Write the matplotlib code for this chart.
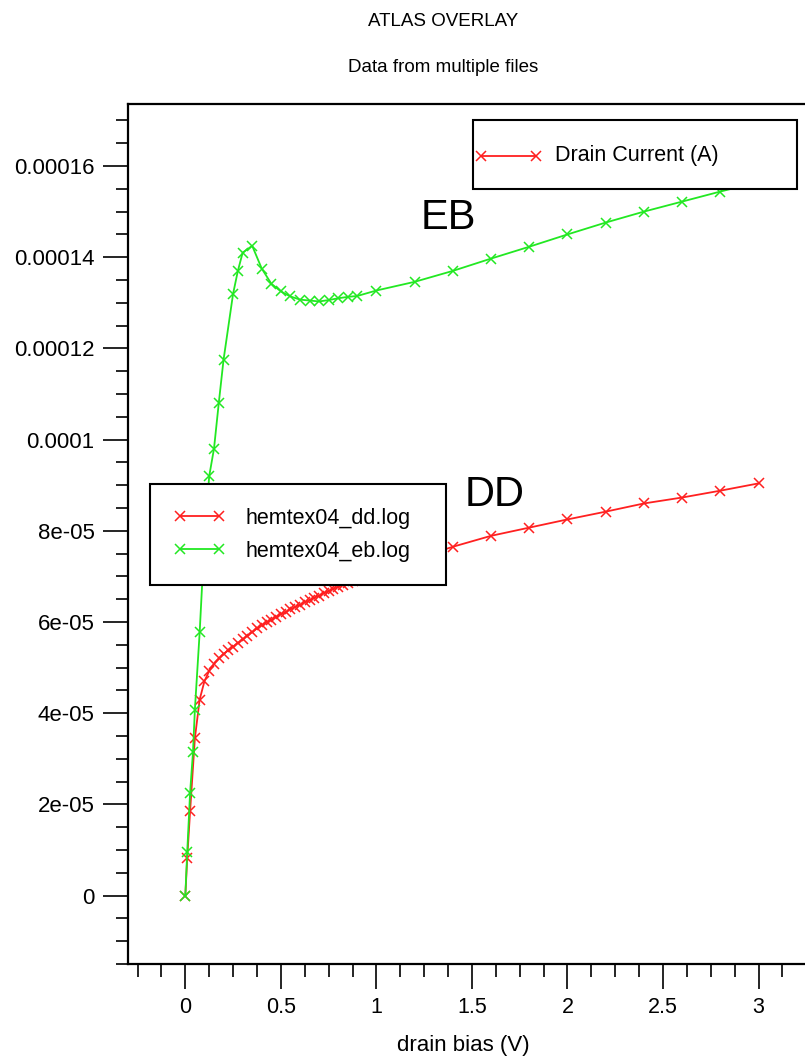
import matplotlib
matplotlib.use("Agg")
import matplotlib.pyplot as plt
from matplotlib.lines import Line2D
from matplotlib.patches import Rectangle
from matplotlib.ticker import MultipleLocator, FormatStrFormatter

# drain bias sweep (V) and drain current (uA) read from the two log files
dd_bias = [0, 0.01, 0.025, 0.05, 0.075, 0.1, 0.125, 0.15, 0.175, 0.2,
           0.225, 0.25, 0.275, 0.3, 0.325, 0.35, 0.375, 0.4, 0.425, 0.45,
           0.475, 0.5, 0.525, 0.55, 0.575, 0.6, 0.625, 0.65, 0.675, 0.7,
           0.725, 0.75, 0.775, 0.8, 0.825, 0.85, 0.875, 0.9, 0.925, 0.95,
           0.975, 1.0, 1.2, 1.4, 1.6, 1.8, 2.0, 2.2, 2.4, 2.6, 2.8, 3.0]
dd_current_uA = [0, 8.3, 18.5, 34.5, 43.0, 47.0, 49.3, 50.8, 52.0, 53.0,
                 53.8, 54.6, 55.4, 56.2, 57.0, 57.8, 58.6, 59.3, 59.9, 60.5,
                 61.1, 61.7, 62.2, 62.8, 63.3, 63.8, 64.3, 64.8, 65.3, 65.8,
                 66.3, 66.8, 67.3, 67.7, 68.2, 68.6, 69.0, 69.4, 69.8, 70.2,
                 70.6, 71.0, 73.8, 76.5, 78.9, 80.7, 82.5, 84.2, 86.0, 87.3,
                 88.8, 90.4]

eb_bias = [0, 0.01, 0.025, 0.04, 0.05, 0.075, 0.1, 0.125, 0.15, 0.175,
           0.2, 0.25, 0.275, 0.3, 0.35, 0.4, 0.45, 0.5, 0.55, 0.6, 0.65,
           0.7, 0.75, 0.8, 0.85, 0.9, 1.0, 1.2, 1.4, 1.6, 1.8, 2.0, 2.2,
           2.4, 2.6, 2.8, 3.0]
eb_current_uA = [0, 9.6, 22.6, 31.4, 40.8, 57.7, 78.0, 92.0, 98.0, 108.0,
                 117.5, 132.0, 137.0, 141.0, 142.5, 137.5, 134.2, 132.5,
                 131.4, 130.7, 130.5, 130.3, 130.6, 131.0, 131.3, 131.5,
                 132.7, 134.6, 137.0, 139.7, 142.3, 145.0, 147.6, 150.0,
                 152.2, 154.4, 156.5]

dd_current = [i * 1e-6 for i in dd_current_uA]
eb_current = [i * 1e-6 for i in eb_current_uA]

RED = '#ff2020'
GREEN = '#22e822'
FS = 15.5

plt.rcParams['font.family'] = ['Liberation Sans', 'DejaVu Sans']

W, H = 805, 1064
fig = plt.figure(figsize=(W / 100, H / 100), dpi=100)
# axes run off the right edge of the page, like the ATLAS plot window
ax = fig.add_axes([128 / W, 100 / H, 707 / W, 860 / H])

l_dd, = ax.plot(dd_bias, dd_current, color=RED, lw=1.3, marker='x',
                ms=7, mew=1.1)
l_eb, = ax.plot(eb_bias, eb_current, color=GREEN, lw=1.3, marker='x',
                ms=7, mew=1.1)

ax.set_xlim(-0.3, 3.4)
ax.set_ylim(-1.5e-5, 17.36e-5)

ax.xaxis.set_major_locator(MultipleLocator(0.5))
ax.xaxis.set_minor_locator(MultipleLocator(0.125))
ax.yaxis.set_major_locator(MultipleLocator(2e-5))
ax.yaxis.set_minor_locator(MultipleLocator(5e-6))
ax.xaxis.set_major_formatter(FormatStrFormatter('%g'))
ax.yaxis.set_major_formatter(FormatStrFormatter('%g'))

ax.tick_params(which='major', direction='out', length=18, width=1.2,
               labelsize=FS, pad=6, colors='black')
ax.tick_params(axis='y', which='major', labelsize=16)
ax.tick_params(which='minor', direction='out', length=9, width=1.2)
for side in ('left', 'bottom', 'top'):
    ax.spines[side].set_linewidth(1.6)
ax.spines['right'].set_visible(False)

ax.set_xlabel('drain bias (V)', fontsize=16, va='center')
ax.xaxis.set_label_coords((463 - 128) / 707, -(1046 - 964) / 860)

ax.text(1.377, 14.87e-5, 'EB', fontsize=30, ha='center', va='center')
ax.text(1.62, 8.79e-5, 'DD', fontsize=30, ha='center', va='center')

fig.text(443 / W, 1 - 22 / H, 'ATLAS OVERLAY', fontsize=13.5,
         ha='center', va='center')
fig.text(443 / W, 1 - 68 / H, 'Data from multiple files', fontsize=13.5,
         ha='center', va='center')

# quantity key box (top right), drawn over the axes
fig.add_artist(Rectangle((473 / W, 1 - 189 / H), 324 / W, 69 / H,
                         facecolor='white', edgecolor='black', lw=1.5,
                         zorder=5))
fig.add_artist(Line2D([481 / W, 536 / W], [1 - 156 / H, 1 - 156 / H],
                      color=RED, lw=1.3, marker='x', ms=7, mew=1.1,
                      zorder=6))
fig.text(555 / W, 1 - 156 / H, 'Drain Current (A)', fontsize=FS,
         ha='left', va='center', zorder=6)

# file legend
leg = ax.legend(handles=[l_dd, l_eb],
                labels=['hemtex04_dd.log', 'hemtex04_eb.log'],
                loc='upper left', mode='expand',
                bbox_to_anchor=(150 / W, 1 - 586 / H, 296 / W, 102 / H),
                bbox_transform=fig.transFigure, borderaxespad=0,
                fontsize=FS, numpoints=2, handlelength=2.4,
                handletextpad=0.93, borderpad=1.1, labelspacing=0.55,
                fancybox=False, framealpha=1, edgecolor='black')
leg.get_frame().set_linewidth(1.5)

fig.savefig('out.png', dpi=100)
